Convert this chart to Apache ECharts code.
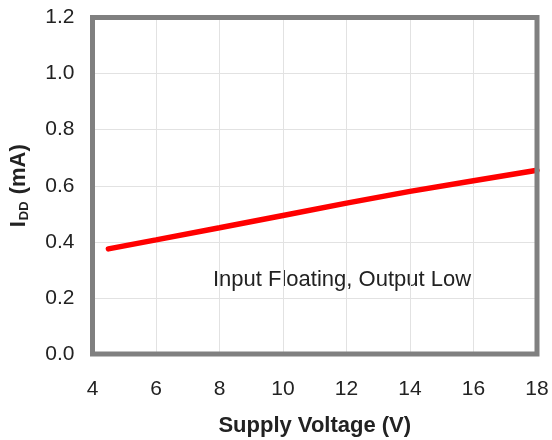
<!DOCTYPE html>
<html>
<head>
<meta charset="utf-8">
<script src="https://cdn.jsdelivr.net/npm/echarts@6/dist/echarts.min.js"></script>
<style>html,body{margin:0;padding:0;background:#fff}#c{width:552px;height:440px}</style>
</head>
<body>
<div id="c"></div>
<script>
var voltage = [4.5, 6, 8, 10, 12, 14, 16, 18];
var idd = [0.375, 0.407, 0.450, 0.494, 0.538, 0.580, 0.618, 0.655];
var annotationText = 'Input Floating, Output Low';
var xTitle = 'Supply Voltage (V)';

var chart = echarts.init(document.getElementById('c'), null, {renderer: 'canvas'});
var font = '"Liberation Sans", Arial, sans-serif';
chart.setOption({
  animation: false,
  grid: {left: 92.5, top: 17.5, right: 15, bottom: 86, outerBoundsMode: 'none', containLabel: false, show: true, borderColor: '#808080', borderWidth: 5, backgroundColor: 'transparent', z: 5},
  xAxis: {
    type: 'value', min: 4, max: 18, interval: 2,
    axisLine: {show: false}, axisTick: {show: false},
    splitLine: {show: true, showMinLine: false, showMaxLine: false, lineStyle: {color: '#e2e2e2', width: 1}},
    axisLabel: {color: '#222', fontSize: 21, fontFamily: font, margin: 25},
    name: xTitle, nameLocation: 'middle', nameGap: 61,
    nameTextStyle: {color: '#222', fontSize: 22, fontWeight: 'bold', fontFamily: font}
  },
  yAxis: {
    type: 'value', min: 0, max: 1.2, interval: 0.2,
    axisLine: {show: false}, axisTick: {show: false},
    splitLine: {show: true, showMinLine: false, showMaxLine: false, lineStyle: {color: '#e2e2e2', width: 1}},
    axisLabel: {color: '#222', fontSize: 21, fontFamily: font, margin: 18, formatter: function (v) { return v.toFixed(1); }},
    name: '{b|I}{s|DD}{b| (mA)}', nameLocation: 'middle', nameGap: 62, nameRotate: 90,
    nameTextStyle: {
      color: '#222', fontFamily: font,
      rich: {
        b: {fontSize: 22, fontWeight: 'bold', color: '#222', fontFamily: font, lineHeight: 24},
        s: {fontSize: 13, fontWeight: 'bold', color: '#222', fontFamily: font, verticalAlign: 'bottom', lineHeight: 24, padding: [8, 1, 0, 1]}
      }
    }
  },
  series: [{
    type: 'line', data: voltage.map(function (v, i) { return [v, idd[i]]; }),
    showSymbol: false, symbol: 'none', smooth: false,
    lineStyle: {color: '#ff0000', width: 5.5, cap: 'round'}
  }],
  graphic: [{
    type: 'text', left: 213, top: 269,
    style: {text: annotationText, fill: '#222', font: '22px "Liberation Sans", Arial, sans-serif'}
  }]
});
</script>
</body>
</html>
